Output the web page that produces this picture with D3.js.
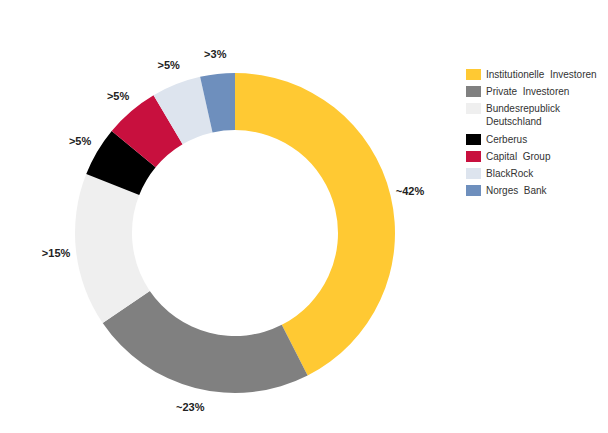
<!DOCTYPE html>
<html><head><meta charset="utf-8">
<script src="https://cdn.jsdelivr.net/npm/d3@7"></script>
<style>body{margin:0;background:#fff}text{font-family:"Liberation Sans",Arial,sans-serif}</style>
</head><body>
<script>
const width = 608, height = 433
const names = ["Institutionelle  Investoren", "Private  Investoren", "Bundesrepublick|Deutschland", "Cerberus", "Capital  Group", "BlackRock", "Norges  Bank"]
const values = [42.5, 23, 15.5, 5, 5.5, 5, 3.5]
const labels = ["~42%", "~23%", ">15%", ">5%", ">5%", ">5%", ">3%"]
const colors = ["#ffc933", "#808080", "#efefef", "#000000", "#c8103e", "#dde4ee", "#6e8fbd"]

const svg = d3.select("body").append("svg").attr("width", width).attr("height", height)
const cx = 235, cy = 233
const pie = d3.pie().sort(null).value(d => d)(values)
const arc = d3.arc().innerRadius(103).outerRadius(160)
const g = svg.append("g").attr("transform", `translate(${cx},${cy})`)
g.selectAll("path").data(pie).join("path").attr("d", arc).attr("fill", (d, i) => colors[i])

const labelArc = d3.arc().innerRadius(180).outerRadius(180)
g.selectAll("text").data(pie).join("text")
    .attr("transform", d => `translate(${labelArc.centroid(d)})`)
    .attr("text-anchor", "middle").attr("dy", "0.35em")
    .attr("font-size", 11).attr("font-weight", "bold").attr("fill", "#222")
    .text((d, i) => labels[i])

const leg = svg.append("g").attr("transform", "translate(466,69)")
let y = 0
names.forEach((n, i) => {
    leg.append("rect").attr("x", 0).attr("y", y).attr("width", 15).attr("height", 11).attr("fill", colors[i])
    const lines = n.split("|")
    lines.forEach((l, j) => {
        leg.append("text").attr("x", 20).attr("y", y + 9 + j * 13).attr("font-size", 10).attr("fill", "#333")
            .style("white-space", "pre").text(l)
    })
    y += 17 + (lines.length - 1) * 14
})
</script>
</body></html>
